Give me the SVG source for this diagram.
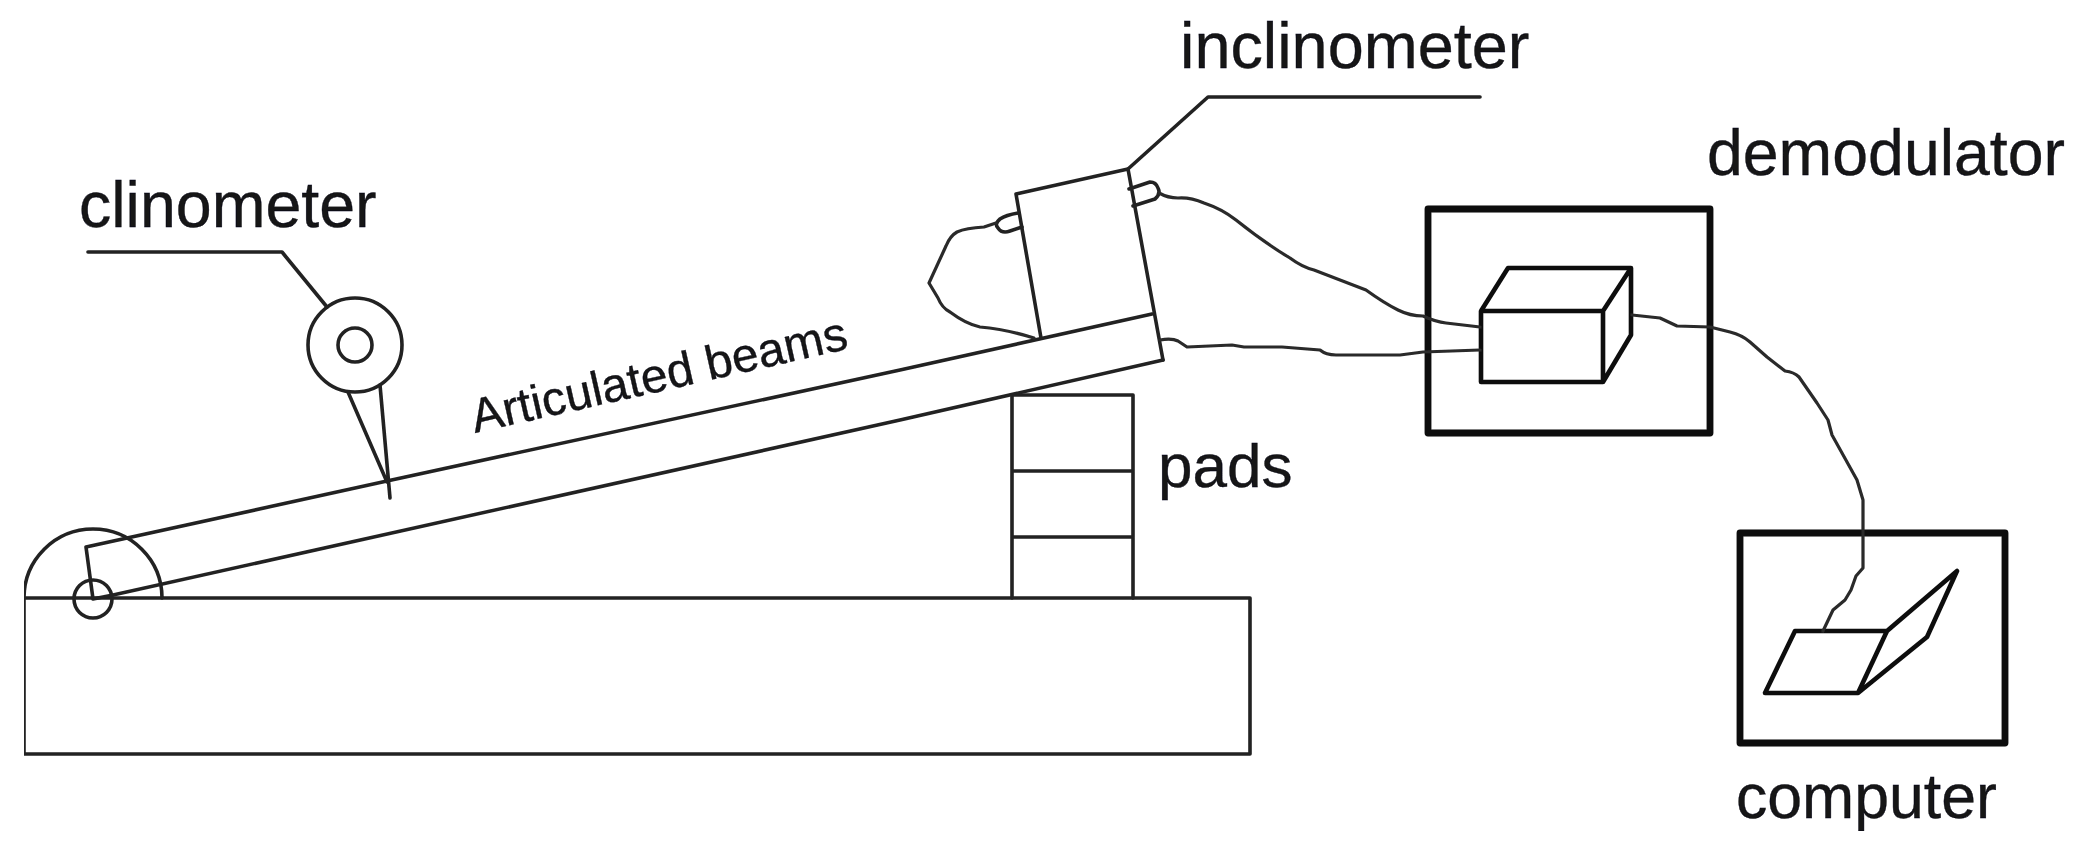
<svg xmlns="http://www.w3.org/2000/svg" width="2078" height="860" viewBox="0 0 2078 860">
<style>
.s{fill:none;stroke:#222;stroke-width:3.6;stroke-linejoin:round;stroke-linecap:round}
.w{fill:none;stroke:#2a2a2a;stroke-width:3.2;stroke-linejoin:round;stroke-linecap:round}
.m{fill:none;stroke:#111;stroke-width:4.6;stroke-linejoin:round}
.b{fill:none;stroke:#0c0c0c;stroke-width:6.8;stroke-linejoin:round}
text{font-family:"Liberation Sans",Arial,sans-serif;fill:#121218;stroke:#121218;stroke-width:.4}
</style>
<defs><filter id="soft" x="0" y="0" width="100%" height="100%"><feGaussianBlur stdDeviation="0.6"/></filter></defs>
<rect width="2078" height="860" fill="#fff"/>
<g filter="url(#soft)">
<g id="base">
<rect class="s" x="24" y="598" width="1226" height="156"/>
</g>
<g id="hinge">
<path class="s" d="M24 598A69 69 0 0 1 162 598"/>
<circle class="s" cx="93" cy="599" r="19"/>
</g>
<g id="beam">
<path class="s" d="M93 599L86 547L387 481L900 370L1152 314M93 599L113 595L900 420L1163 360"/>
<text x="475" y="433" font-size="48" transform="rotate(-12.7 475 433)">Articulated beams</text>
</g>
<g id="pads">
<path class="s" d="M1012 598V395H1133V598M1012 471H1133M1012 537H1133"/>
<text x="1158" y="487" font-size="62">pads</text>
</g>
<g id="clinometer">
<circle class="s" cx="355" cy="345" r="47"/>
<circle class="s" cx="355" cy="345" r="17"/>
<path class="s" d="M348 392L387 482M380 385L390 498"/>
<text x="79" y="227" font-size="64.5">clinometer</text>
</g>
<g id="inclinometer">
<path class="s" d="M1041 338L1016 194L1128 169L1163 360"/>
<path class="s" d="M1018 213Q1006 215 1000 219Q994 224 998 228Q1002 234 1010 231L1022 227M1129 189L1150 182Q1156 182 1158 188Q1161 194 1155 199L1133 206"/>
<text x="1180" y="68" font-size="64.8">inclinometer</text>
</g>
<g id="demodulator">
<rect class="b" x="1428" y="209" width="282" height="224"/>
<path class="m" d="M1481 311H1603V382H1481ZM1481 311L1508 268H1631V335L1603 382M1603 311L1631 268"/>
<text x="1707" y="175" font-size="64.4">demodulator</text>
</g>
<g id="computer">
<rect class="b" x="1740" y="533" width="265" height="210"/>
<path class="m" d="M1765 693L1795 631H1887L1858 693ZM1887 631L1957 571L1927 637L1858 693"/>
<text x="1736" y="818" font-size="62.6">computer</text>
</g>
<g id="connectors">
<path class="s" d="M88 252H282L327 307"/>
<path class="s" d="M1128 169L1208 97H1480"/>
<path class="w" d="M996 223L984 227Q966 228 957 232Q950 236 946 246L929 283L938 298Q942 308 950 312Q966 324 980 327Q1005 329 1034 338"/>
<path class="w" d="M1159 193Q1168 198 1178 198Q1190 197 1204 203Q1222 209 1236 220C1256 236 1270 246 1290 258Q1302 267 1314 270L1366 290Q1384 303 1398 310Q1410 316 1423 316Q1436 322 1446 323L1480 327"/>
<path class="w" d="M1160 340Q1172 338 1178 341L1187 347L1232 345L1244 347L1282 347L1320 350Q1326 355 1336 355L1400 355L1423 352L1480 350"/>
<path class="w" d="M1632 315L1660 318L1677 326L1710 327L1730 332Q1742 335 1750 342L1767 357L1785 371Q1794 372 1799 377L1817 403L1828 420L1832 435L1857 480L1863 500V568L1856 576L1851 590L1845 600L1833 610L1823 631"/>
</g>
</g>
</svg>
